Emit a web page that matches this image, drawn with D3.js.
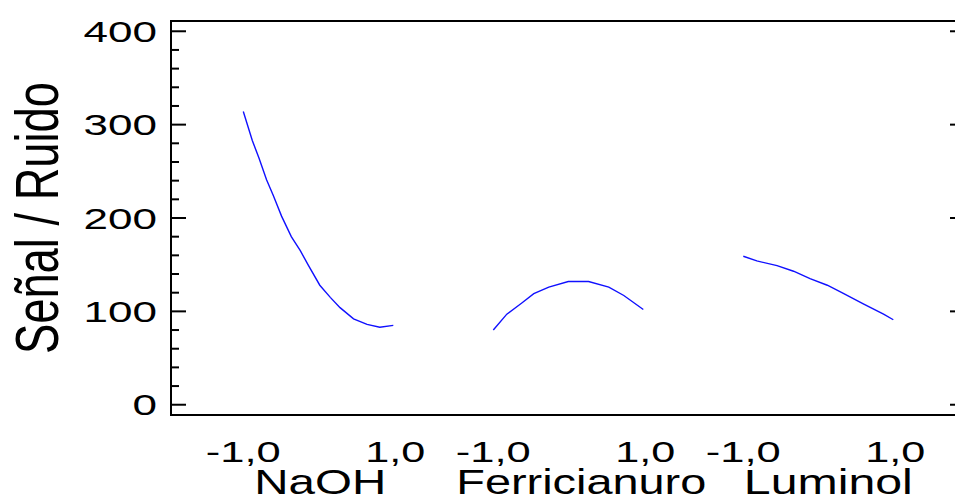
<!DOCTYPE html>
<html>
<head>
<meta charset="utf-8">
<script src="https://cdn.jsdelivr.net/npm/d3@7"></script>
<style>
  body { margin: 0; background: #fff; }
  text { font-family: "Liberation Sans", Arial, sans-serif; fill: #000; }
</style>
</head>
<body>
<script>
// factors and their levels
var factors = ["NaOH", "Ferricianuro", "Luminol"];
var levelTicks = [-1, 1];
var levelLabels = ["-1,0", "1,0"];
var yTicks = [0, 100, 200, 300, 400];

// main effects (level, S/N)
var naohLevel = [-1, -0.88, -0.79, -0.69, -0.6, -0.49, -0.36, -0.24, -0.13, 0.02, 0.16, 0.29, 0.47, 0.65, 0.82, 1];
var naohSN    = [314, 283, 264, 241, 224, 202, 180, 165, 149, 128, 115, 104, 92, 86, 83, 85];
var ferriLevel = [-1, -0.82, -0.62, -0.46, -0.26, 0, 0.27, 0.54, 0.74, 1];
var ferriSN    = [80, 97, 109, 119, 126, 132, 132, 126, 117, 102];
var lumiLevel = [-1, -0.82, -0.55, -0.33, -0.11, 0.12, 0.34, 0.6, 0.87, 1];
var lumiSN    = [159, 154, 149, 143, 135, 128, 119, 108, 97, 91];

var series = [
  {factor: "NaOH", x: naohLevel, y: naohSN},
  {factor: "Ferricianuro", x: ferriLevel, y: ferriSN},
  {factor: "Luminol", x: lumiLevel, y: lumiSN}
];

var width = 955, height = 497;
var plotL = 171, plotT = 21, plotR = 965, plotB = 415;

var svg = d3.select("body").append("svg")
    .attr("width", width)
    .attr("height", height);

var y = d3.scaleLinear().domain([-11, 411]).range([plotB, plotT]);
var band = d3.scaleBand().domain(factors).range([193.3, 943.3]);
var lev = d3.scaleLinear().domain([-1, 1]).range([-75, 75]);
function xPos(f, v) { return band(f) + band.bandwidth() / 2 + lev(v); }

// frame
svg.append("rect")
    .attr("x", plotL).attr("y", plotT)
    .attr("width", plotR - plotL).attr("height", plotB - plotT)
    .attr("fill", "none").attr("stroke", "#000").attr("stroke-width", 2);

// y ticks left: majors and minors
var minor = d3.range(0, 401, 20).filter(function(v){ return v % 100 != 0; });
var yAxisL = svg.append("g").attr("transform", "translate(" + plotL + ",0)");
yAxisL.selectAll("line.major").data(yTicks).enter().append("line")
    .attr("x1", 0).attr("x2", 15)
    .attr("y1", function(d){ return y(d); }).attr("y2", function(d){ return y(d); })
    .attr("stroke", "#000").attr("stroke-width", 2);
yAxisL.selectAll("line.minor").data(minor).enter().append("line")
    .attr("x1", 0).attr("x2", 8)
    .attr("y1", function(d){ return y(d); }).attr("y2", function(d){ return y(d); })
    .attr("stroke", "#000").attr("stroke-width", 2);

// y ticks right (mirrored)
svg.append("g").selectAll("line").data(yTicks).enter().append("line")
    .attr("x1", plotR - 15).attr("x2", plotR)
    .attr("y1", function(d){ return y(d); }).attr("y2", function(d){ return y(d); })
    .attr("stroke", "#000").attr("stroke-width", 2);

// y tick labels
svg.append("g").selectAll("text").data(yTicks).enter().append("text")
    .attr("x", 157)
    .attr("y", function(d){ return y(d) + 10.5; })
    .attr("text-anchor", "end")
    .attr("font-size", 30)
    .attr("textLength", function(d){ return String(d).length * 24.5; })
    .attr("lengthAdjust", "spacingAndGlyphs")
    .text(function(d){ return d; });

// y title
svg.append("text")
    .attr("transform", "translate(58,218) rotate(-90)")
    .attr("text-anchor", "middle")
    .attr("font-size", 62)
    .attr("textLength", 272)
    .attr("lengthAdjust", "spacingAndGlyphs")
    .text("Señal / Ruido");

// x level labels
var lvl = [];
factors.forEach(function(f){
  levelTicks.forEach(function(v, i){ lvl.push({f: f, v: v, label: levelLabels[i]}); });
});
svg.append("g").selectAll("text").data(lvl).enter().append("text")
    .attr("x", function(d){ return xPos(d.f, d.v) + (d.v > 0 ? 2 : 0); })
    .attr("y", 462)
    .attr("text-anchor", "middle")
    .attr("font-size", 30)
    .attr("textLength", function(d){ return d.label.length == 4 ? 75 : 60; })
    .attr("lengthAdjust", "spacingAndGlyphs")
    .text(function(d){ return d.label; });

// factor names
var nameWidth = {"NaOH": 132, "Ferricianuro": 250, "Luminol": 169};
var nameShift = {"NaOH": 2, "Ferricianuro": 13, "Luminol": 10};
svg.append("g").selectAll("text").data(factors).enter().append("text")
    .attr("x", function(f){ return xPos(f, 0) + nameShift[f]; })
    .attr("y", 494)
    .attr("text-anchor", "middle")
    .attr("font-size", 35)
    .attr("textLength", function(f){ return nameWidth[f]; })
    .attr("lengthAdjust", "spacingAndGlyphs")
    .text(function(f){ return f; });

// effect curves
var line = d3.line()
    .x(function(d){ return d[0]; })
    .y(function(d){ return d[1]; });
svg.append("g").selectAll("path").data(series).enter().append("path")
    .attr("d", function(s){
      return line(s.x.map(function(v, i){ return [xPos(s.factor, v), y(s.y[i])]; }));
    })
    .attr("fill", "none")
    .attr("stroke", "#1010ff")
    .attr("stroke-width", 1.4);
</script>
</body>
</html>
